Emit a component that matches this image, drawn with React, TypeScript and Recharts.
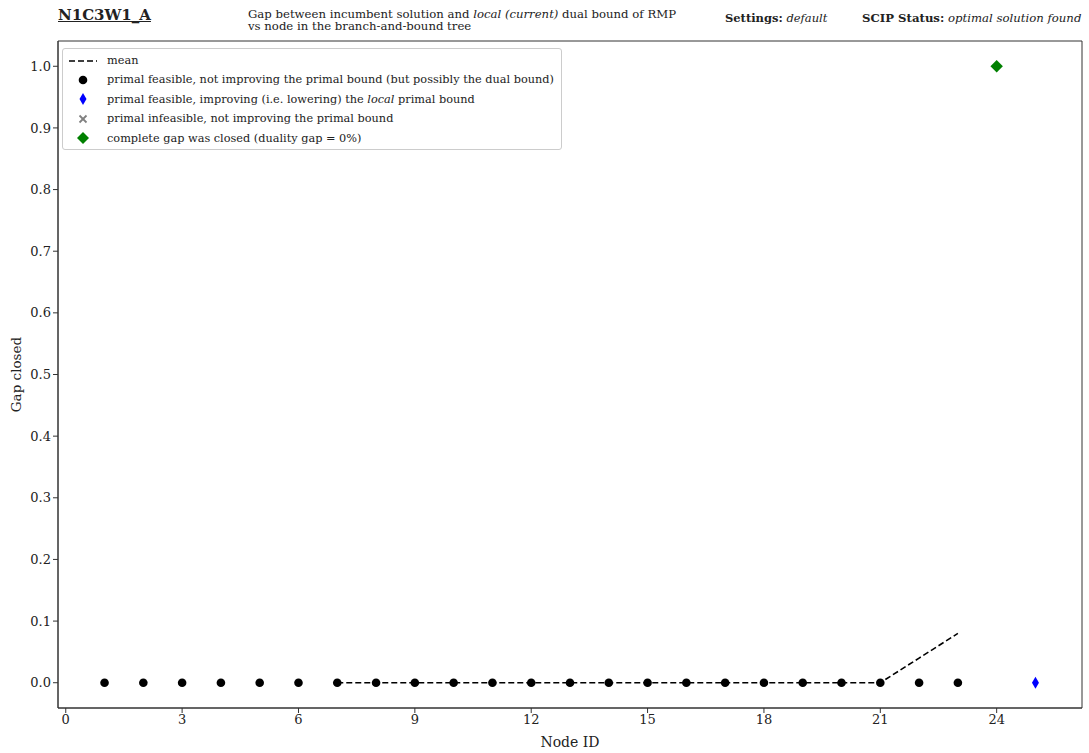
import React from "react";
import {
  ComposedChart,
  Scatter,
  Line,
  XAxis,
  YAxis,
  ReferenceArea,
} from "recharts";

// node ids and gap closed values
const feasibleNodes = [1, 2, 3, 4, 5, 6, 7, 8, 9, 10, 11, 12, 13, 14, 15, 16, 17, 18, 19, 20, 21, 22, 23];
const feasibleGaps = [0, 0, 0, 0, 0, 0, 0, 0, 0, 0, 0, 0, 0, 0, 0, 0, 0, 0, 0, 0, 0, 0, 0];

const improvingNodes = [25];
const improvingGaps = [0];

const closedNodes = [24];
const closedGaps = [1.0];

const meanNodes = [7, 8, 9, 10, 11, 12, 13, 14, 15, 16, 17, 18, 19, 20, 21, 22, 23];
const meanGaps = [0, 0, 0, 0, 0, 0, 0, 0, 0, 0, 0, 0, 0, 0, 0, 0.04, 0.08];

const xTicks = [0, 3, 6, 9, 12, 15, 18, 21, 24];
const yTicks = [0, 0.1, 0.2, 0.3, 0.4, 0.5, 0.6, 0.7, 0.8, 0.9, 1.0];

const X_DOMAIN: [number, number] = [-0.2, 26.2];
const Y_DOMAIN: [number, number] = [-0.041, 1.041];

const FONT = "'DejaVu Serif', 'Liberation Serif', serif";

const zip = (xs: number[], ys: number[]) => xs.map((x, i) => ({ x, y: ys[i] }));

const Dot = (p: any) => <circle cx={p.cx} cy={p.cy} r={4.3} fill="#000" />;

const ThinDiamond = (p: any) => (
  <path
    d={`M${p.cx},${p.cy - 6} L${p.cx + 3.5},${p.cy} L${p.cx},${p.cy + 6} L${p.cx - 3.5},${p.cy} Z`}
    fill="#0000ff"
  />
);

const Diamond = (p: any) => (
  <path
    d={`M${p.cx},${p.cy - 6.2} L${p.cx + 6.2},${p.cy} L${p.cx},${p.cy + 6.2} L${p.cx - 6.2},${p.cy} Z`}
    fill="#008000"
  />
);

function LegendBox() {
  const rows: { icon: React.ReactNode; text: React.ReactNode }[] = [
    {
      icon: <line x1={2} y1={8} x2={30} y2={8} stroke="#000" strokeWidth={1.6} strokeDasharray="6 3" />,
      text: "mean",
    },
    { icon: <circle cx={16} cy={8} r={4.3} fill="#000" />, text: "primal feasible, not improving the primal bound (but possibly the dual bound)" },
    {
      icon: <path d="M16,2 L19.5,8 L16,14 L12.5,8 Z" fill="#0000ff" />,
      text: (
        <>
          primal feasible, improving (i.e. lowering) the <i>local</i> primal bound
        </>
      ),
    },
    {
      icon: (
        <g stroke="#808080" strokeWidth={1.8}>
          <line x1={12.5} y1={4.5} x2={19.5} y2={11.5} />
          <line x1={12.5} y1={11.5} x2={19.5} y2={4.5} />
        </g>
      ),
      text: "primal infeasible, not improving the primal bound",
    },
    { icon: <path d="M16,2 L22,8 L16,14 L10,8 Z" fill="#008000" />, text: "complete gap was closed (duality gap = 0%)" },
  ];
  return (
    <div
      style={{
        position: "absolute",
        left: 62,
        top: 48,
        width: 500,
        height: 102,
        border: "1px solid #cccccc",
        borderRadius: 3,
        background: "rgba(255,255,255,0.85)",
        fontFamily: FONT,
        fontSize: 11.3,
        color: "#222",
        boxSizing: "border-box",
      }}
    >
      {rows.map((r, i) => (
        <div
          key={i}
          style={{ position: "absolute", left: 4, top: 3 + i * 19.4, height: 17, display: "flex", alignItems: "center" }}
        >
          <svg width={34} height={16} style={{ display: "block" }}>
            {r.icon}
          </svg>
          <span style={{ marginLeft: 6, whiteSpace: "nowrap" }}>{r.text}</span>
        </div>
      ))}
    </div>
  );
}

function Header() {
  return (
    <>
      <div
        style={{
          position: "absolute",
          left: 58,
          top: 6,
          fontFamily: FONT,
          fontWeight: "bold",
          fontSize: 15,
          textDecoration: "underline",
          color: "#222",
          whiteSpace: "nowrap",
        }}
      >
        N1C3W1_A
      </div>
      <div
        style={{
          position: "absolute",
          left: 248,
          top: 8,
          fontFamily: FONT,
          fontSize: 11.7,
          lineHeight: "12px",
          color: "#222",
          whiteSpace: "nowrap",
        }}
      >
        Gap between incumbent solution and <i>local (current)</i> dual bound of RMP
        <br />
        vs node in the branch-and-bound tree
      </div>
      <div
        style={{ position: "absolute", left: 725, top: 11, fontFamily: FONT, fontSize: 11.5, color: "#222", whiteSpace: "nowrap" }}
      >
        <b>Settings:</b> <i>default</i>
      </div>
      <div
        style={{ position: "absolute", left: 862, top: 11, fontFamily: FONT, fontSize: 11.7, color: "#222", whiteSpace: "nowrap" }}
      >
        <b>SCIP Status:</b> <i>optimal solution found</i>
      </div>
    </>
  );
}

export default function App() {
  const tickStyle = { fontFamily: FONT, fontSize: 13, fill: "#222" };
  return (
    <div style={{ position: "absolute", left: 0, top: 0, width: 1089, height: 753, background: "#fff" }}>
      <Header />
      <ComposedChart width={1089} height={753} margin={{ top: 41, right: 7, bottom: 0, left: 8 }}>
        <XAxis
          dataKey="x"
          type="number"
          domain={X_DOMAIN}
          ticks={xTicks}
          allowDataOverflow
          height={45}
          tick={tickStyle}
          tickSize={5}
          stroke="#333"
          label={{ value: "Node ID", position: "insideBottom", offset: 6, style: { fontFamily: FONT, fontSize: 14, fill: "#222" } }}
        />
        <YAxis
          dataKey="y"
          type="number"
          domain={Y_DOMAIN}
          ticks={yTicks}
          allowDataOverflow
          width={50}
          tick={tickStyle}
          tickSize={5}
          tickFormatter={(v: number) => v.toFixed(1)}
          stroke="#333"
          label={{ value: "Gap closed", angle: -90, position: "insideLeft", offset: 8, style: { fontFamily: FONT, fontSize: 13.5, fill: "#222", textAnchor: "middle" } }}
        />
        <ReferenceArea
          x1={X_DOMAIN[0]}
          x2={X_DOMAIN[1]}
          y1={Y_DOMAIN[0]}
          y2={Y_DOMAIN[1]}
          fill="none"
          stroke="#333"
          strokeWidth={1}
          ifOverflow="visible"
        />
        <Line
          data={zip(meanNodes, meanGaps)}
          dataKey="y"
          type="linear"
          stroke="#000"
          strokeWidth={1.6}
          strokeDasharray="6 3"
          dot={false}
          activeDot={false}
          isAnimationActive={false}
        />
        <Scatter data={zip(feasibleNodes, feasibleGaps)} dataKey="y" shape={Dot} isAnimationActive={false} />
        <Scatter data={zip(improvingNodes, improvingGaps)} dataKey="y" shape={ThinDiamond} isAnimationActive={false} />
        <Scatter data={zip(closedNodes, closedGaps)} dataKey="y" shape={Diamond} isAnimationActive={false} />
      </ComposedChart>
      <LegendBox />
    </div>
  );
}
